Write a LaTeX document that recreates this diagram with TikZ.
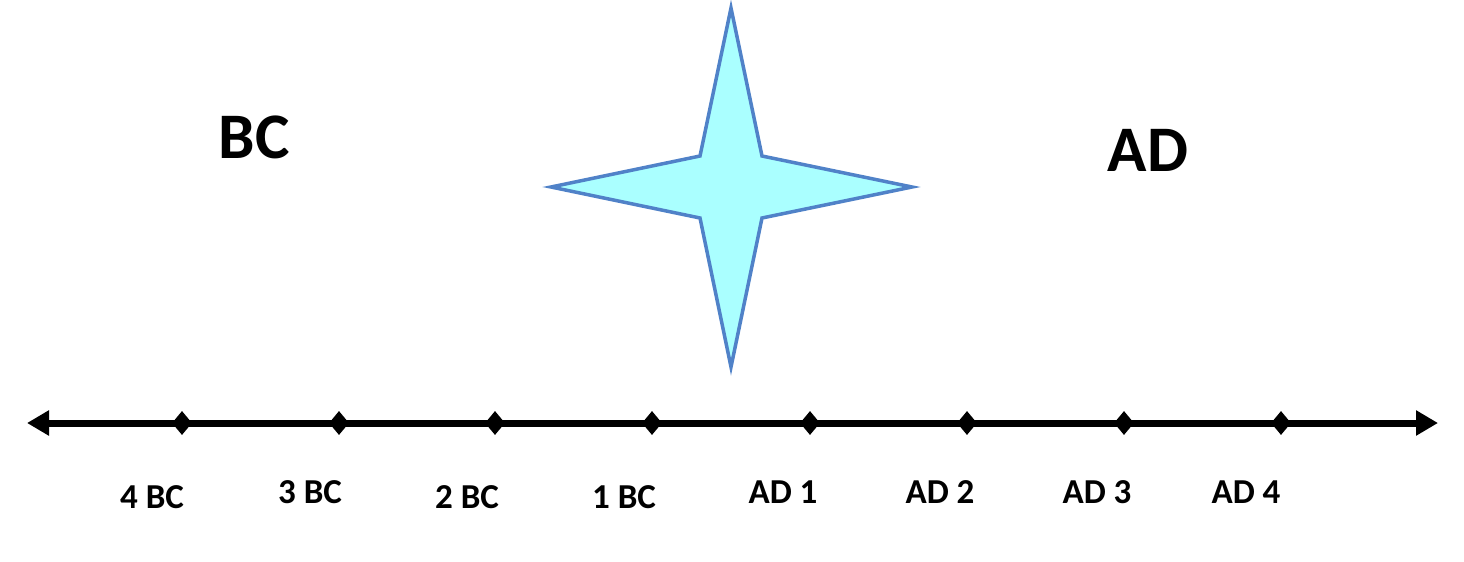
\documentclass[tikz,border=0pt]{standalone}
\usepackage{fontspec}
\setmainfont{Carlito}
\usetikzlibrary{shapes.geometric,arrows.meta}
\definecolor{starfill}{RGB}{170,255,255}
\definecolor{starline}{RGB}{80,130,200}
\tikzset{
  tick/.style={diamond,fill=black,inner sep=0pt,minimum width=20pt,minimum height=24pt},
  ticklabel/.style={font=\fontsize{35}{38}\selectfont\bfseries,inner sep=0pt},
  eralabel/.style={font=\fontsize{65}{70}\selectfont\bfseries,inner sep=0pt},
  axis/.style={line width=7pt,{Triangle[length=22pt,width=24pt]}-{Triangle[length=22pt,width=24pt]}},
  starshape/.style={fill=starfill,draw=starline,line width=3.5pt,line join=miter}
}
\begin{document}
\begin{tikzpicture}[x=1pt,y=-1pt]
\useasboundingbox (0,0) rectangle (1464,562);
% star
\draw[starshape] (731,8) -- (762,156) -- (912,187) -- (762,218) -- (731,367)
  -- (700,218) -- (551,187) -- (700,156) -- cycle;
% era labels
\node[eralabel] (bc) at (254,137) {BC};
\node[eralabel] (ad) at (1148,150) {AD};
% axis
\coordinate (L) at (27,423);
\coordinate (R) at (1438,423);
\draw[axis] (L) -- (R);
% ticks
\foreach \n/\x in {t1/182,t2/339,t3/495,t4/652,t5/810,t6/967,t7/1124,t8/1281}
  \node[tick] (\n) at (\x,423) {};
% tick labels
\node[ticklabel] (l1) at (152,497) {4 BC};
\node[ticklabel] (l2) at (310,492) {3 BC};
\node[ticklabel] (l3) at (467,497) {2 BC};
\node[ticklabel] (l4) at (624,497) {1 BC};
\node[ticklabel] (l5) at (783,492) {AD 1};
\node[ticklabel] (l6) at (940,492) {AD 2};
\node[ticklabel] (l7) at (1097,492) {AD 3};
\node[ticklabel] (l8) at (1246,492) {AD 4};
\end{tikzpicture}
\end{document}
